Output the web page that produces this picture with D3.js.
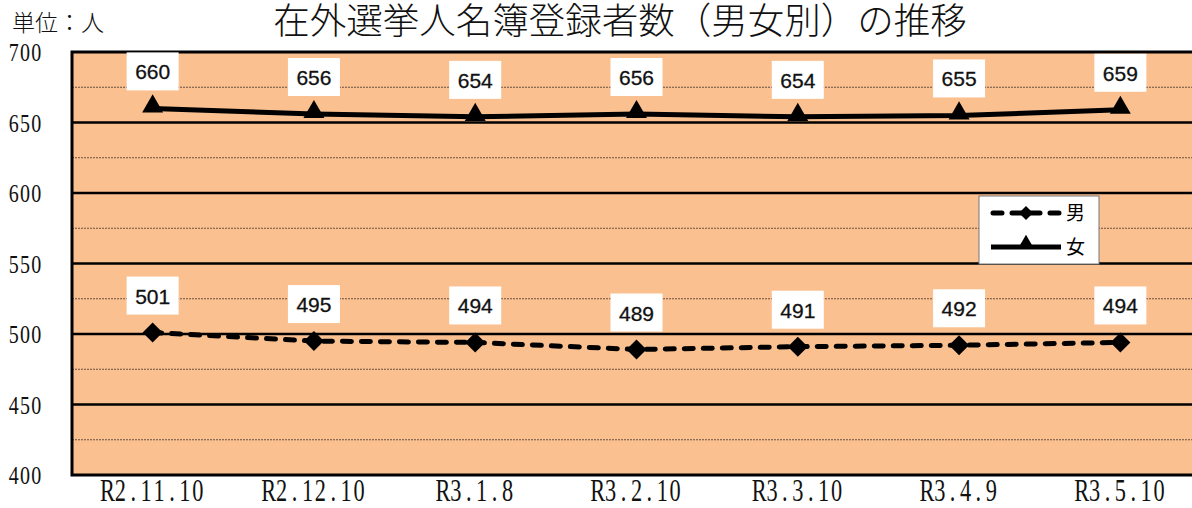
<!DOCTYPE html>
<html><head><meta charset="utf-8">
<script src="https://cdn.jsdelivr.net/npm/d3@7"></script>
<style>body{margin:0;background:#fff;overflow:hidden}svg{display:block}</style>
</head><body><svg id="c" width="1192" height="508"></svg>
<script>
const categories = ["R2.11.10","R2.12.10","R3.1.8","R3.2.10","R3.3.10","R3.4.9","R3.5.10"];
const maleValues = [501,495,494,489,491,492,494];
const femaleValues = [660,656,654,656,654,655,659];
const yTicks = [400,450,500,550,600,650,700];
const yMinor = [425,475,525,575,625,675];
const seriesNames = ["男","女"];
const titleText = "在外選挙人名簿登録者数（男女別）の推移";
const unitText = "単位：人";

const svg = d3.select("#c");
const L = 72, T = 52, B = 475, R = 1201;
const x = d3.scaleBand().domain(categories).range([L, R]);
const y = d3.scaleLinear().domain([400,700]).range([B, T]);
const cx = d => x(d) + x.bandwidth()/2;

svg.append("rect").attr("x",L).attr("y",T).attr("width",R-L).attr("height",B-T).attr("fill","#FAC090");

svg.append("g").selectAll("line").data(yMinor).join("line")
  .attr("x1",L).attr("x2",R).attr("y1",d=>y(d)).attr("y2",d=>y(d))
  .attr("stroke","#6b5040").attr("stroke-width",1).attr("stroke-dasharray","2,1");
svg.append("g").selectAll("line").data(yTicks.filter(d=>d>400&&d<700)).join("line")
  .attr("x1",L).attr("x2",R).attr("y1",d=>y(d)).attr("y2",d=>y(d))
  .attr("stroke","#000").attr("stroke-width",2.5);

// border
svg.append("path").attr("d",`M${R},${T}H${L}V${B}H${R}`).attr("fill","none").attr("stroke","#000").attr("stroke-width",3);

// condensed serif text drawn in monospace cells
function cellText(sel, str, cell, sx){
  const n = str.length;
  str.split("").forEach((ch,i)=>{
    sel.append("tspan").attr("x",((i-(n-1)/2)*cell)/sx).attr("text-anchor","middle").text(ch);
  });
}

// y axis labels
svg.append("g").selectAll("text").data(yTicks).join("text")
  .attr("transform",d=>`translate(25,${y(d)+9}) scale(0.8,1)`)
  .attr("font-family","'Liberation Serif',serif").attr("font-size",25).attr("fill","#111")
  .each(function(d){ cellText(d3.select(this), String(d), 11.3, 0.8); });

// x labels
svg.append("g").selectAll("text").data(categories).join("text")
  .attr("transform",d=>`translate(${cx(d)},500.5) scale(0.72,1.05)`)
  .attr("font-family","'Liberation Serif',serif").attr("font-size",31).attr("fill","#111")
  .each(function(d){ cellText(d3.select(this), d, 12.9, 0.72); });

// title
svg.append("text").attr("x",620).attr("y",34).attr("text-anchor","middle")
  .attr("font-family","'Liberation Sans','Noto Sans CJK JP',sans-serif").attr("font-size",36.5).attr("font-weight",300).attr("fill","#111")
  .text(titleText);
svg.append("text").attr("x",12).attr("y",31)
  .attr("font-family","'Noto Sans CJK JP',sans-serif").attr("font-size",23).attr("font-weight",300).attr("fill","#111")
  .text(unitText);

const line = d3.line().x((d,i)=>cx(categories[i])).y(d=>y(d));
svg.append("path").datum(maleValues).attr("d",line).attr("fill","none")
  .attr("stroke","#000").attr("stroke-width",5).attr("stroke-dasharray","9,10").attr("stroke-linecap","round");
svg.append("path").datum(femaleValues).attr("d",line).attr("fill","none")
  .attr("stroke","#000").attr("stroke-width",5);

const diamond = d3.symbol().type(d3.symbolSquare).size(200);
const tri = d3.symbol().type(d3.symbolTriangle).size(190);
svg.append("g").selectAll("path").data(maleValues).join("path")
  .attr("d",diamond).attr("transform",(d,i)=>`translate(${cx(categories[i])},${y(d)}) rotate(45)`);
svg.append("g").selectAll("path").data(femaleValues).join("path")
  .attr("d",tri).attr("transform",(d,i)=>`translate(${cx(categories[i])},${y(d)-2})`);

function labels(vals){
  const g = svg.append("g").selectAll("g").data(vals).join("g")
    .attr("transform",(d,i)=>`translate(${cx(categories[i])},${y(d)-37})`);
  g.append("rect").attr("x",-26).attr("y",-19).attr("width",52).attr("height",38).attr("fill","#fff");
  g.append("text").attr("text-anchor","middle").attr("y",8)
    .attr("font-family","'Liberation Sans',Arial,sans-serif").attr("font-size",21).attr("fill","#111")
    .attr("stroke","#111").attr("stroke-width",0.3)
    .text(d=>d);
}
labels(maleValues); labels(femaleValues);

// legend
const lg = svg.append("g").attr("transform","translate(979,196)");
lg.append("rect").attr("width",120).attr("height",68).attr("fill","#fff").attr("stroke","#777").attr("stroke-width",1);
lg.append("line").attr("x1",14).attr("x2",80).attr("y1",17).attr("y2",17).attr("stroke","#000").attr("stroke-width",5).attr("stroke-dasharray","9,10").attr("stroke-linecap","round");
lg.append("path").attr("d",d3.symbol().type(d3.symbolSquare).size(100)()).attr("transform","translate(47,17) rotate(45)");
lg.append("line").attr("x1",12).attr("x2",82).attr("y1",51).attr("y2",51).attr("stroke","#000").attr("stroke-width",5);
lg.append("path").attr("d",d3.symbol().type(d3.symbolTriangle).size(110)()).attr("transform","translate(47,48)");
lg.selectAll("text").data(seriesNames).join("text")
  .attr("x",87).attr("y",(d,i)=>24+i*34)
  .attr("font-family","'Noto Sans CJK JP',sans-serif").attr("font-size",19).text(d=>d);
</script></body></html>
